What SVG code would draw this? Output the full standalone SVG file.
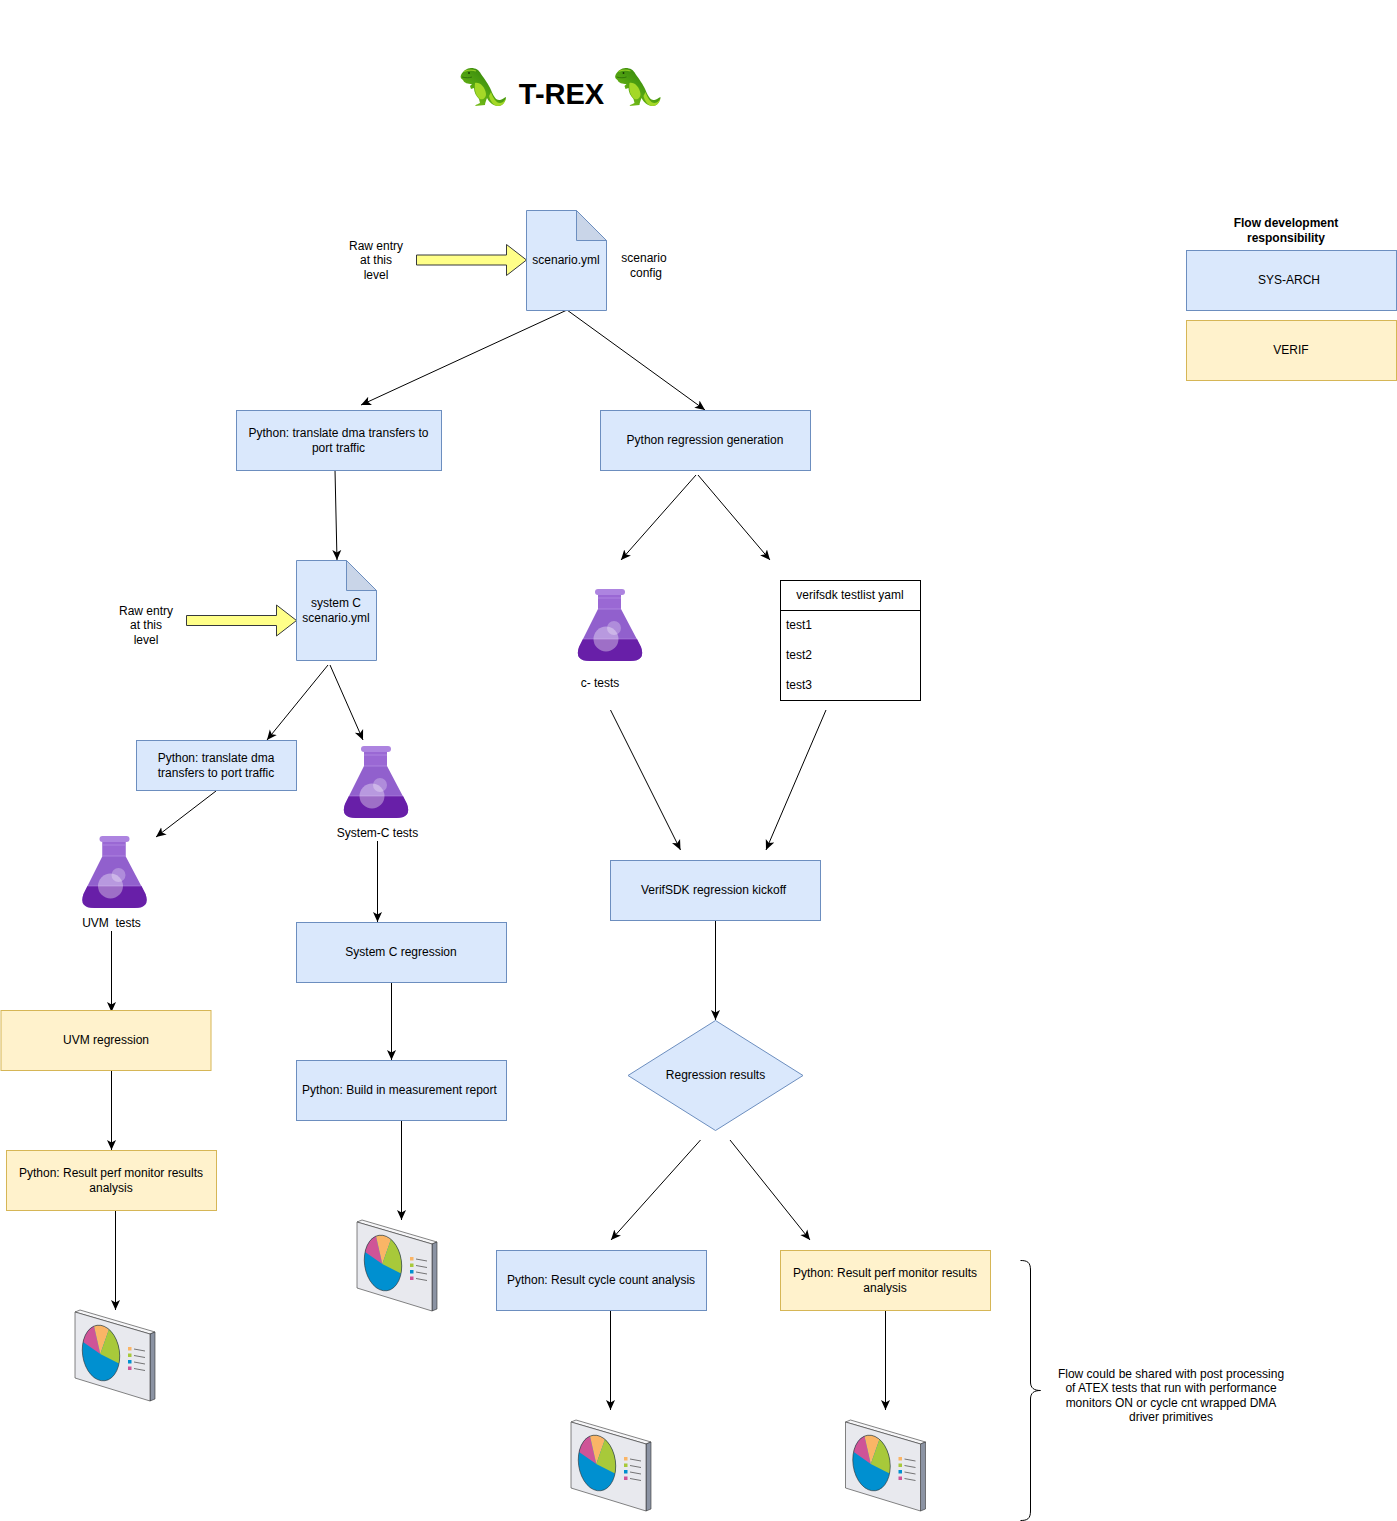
<svg xmlns="http://www.w3.org/2000/svg" width="1397" height="1521" viewBox="0 0 1397 1521">
<style>
text{font-family:"Liberation Sans",Arial,sans-serif;font-size:12px;fill:#000;text-anchor:middle;white-space:pre}
.l{text-anchor:start}
.b{font-weight:bold}
.t{font-size:29px;font-weight:bold}
.blue{fill:#dae8fc;stroke:#6c8ebf}
.yel{fill:#fff2cc;stroke:#d6b656}
.fold{fill:#c9d5e8;stroke:#6c8ebf}
.block{fill:#ffff88;stroke:#36393d}
.tbl{fill:#fff;stroke:#000}
.c{fill:none;stroke:#000;stroke-width:1;marker-end:url(#a)}
</style>
<defs>
<marker id="a" markerUnits="userSpaceOnUse" markerWidth="12" markerHeight="12" refX="10" refY="5" orient="auto"><path d="M0,0.5 L10,5 L0,9.500 L2.500,5Z" fill="#000"/></marker>
<linearGradient id="dg" x1="0.1" y1="0.9" x2="0.8" y2="0.1"><stop offset="0" stop-color="#7cc019"/><stop offset=".55" stop-color="#4c9e10"/><stop offset="1" stop-color="#2f7f0c"/></linearGradient>
<clipPath id="pc"><ellipse cx="26" cy="43" rx="18.500" ry="28" transform="rotate(-8 26 43)"/></clipPath>
<symbol id="dino" width="47" height="39" viewBox="0 0 47 39" overflow="visible">
<path d="M1,7 C3,3 7,0 11,0 C16,0 19,2 21,6 C24,10 29,17 31,22 C33,27 36,33 40,32 C42,31.500 44,30 46,29 C46,33 43,38 38,38 C33,38 29,34 27,30 C26,33 25,35 25,37 L15,38 C16,36 19,36 20,35 L19,31 C16,28 14,24 14,20 L11,21 L10,18 L12,16 C8,16 4,15 3,12 C1,11 0,9 1,7Z" fill="url(#dg)"/>
<path d="M15,15 C20,14 25,19 26,26 C26,30 23,32 20,31 C16,28 14,22 15,15Z" fill="#a4d827"/>
<path d="M31,24 C33,30 36,35 40,35 C43,35 45,32 46,30 C45,35 42,38 38,38 C34,38 30,33 29,28Z" fill="#a4d827"/>
<path d="M2,9 C6,10 9,10 12,9" fill="none" stroke="#2a6a08" stroke-width=".8"/>
<path d="M4,3.500 C8,2 13,2 16,3" fill="none" stroke="#8fca24" stroke-width="1.200"/>
<circle cx="9" cy="5" r=".9" fill="#173304"/>
</symbol>
<symbol id="flask" width="65" height="73" viewBox="0 0 65 73" overflow="visible">
<path d="M20,6 L43,6 L43,20 L63,58 Q68,72 52,72 L12,72 Q-4,72 1,58 L20,20Z" fill="#9160cd"/>
<path d="M20,6 L43,6 L43,20 L20,20Z" fill="#9a68d4"/>
<path d="M20,9 H43 M20,20 H43" stroke="#b893e6" stroke-width=".7" fill="none"/>
<path d="M5,50 L59,50 L63,58 Q68,72 52,72 L12,72 Q-4,72 1,58Z" fill="#681fa8"/>
<path d="M5,50 H59" stroke="#b893e6" stroke-width=".5"/>
<rect x="17" y="0" width="30" height="6" rx="3" fill="#ad84e0"/>
<circle cx="36" cy="39" r="7" fill="#fff" fill-opacity=".28"/>
<circle cx="28" cy="50" r="12.500" fill="#fff" fill-opacity=".36"/>
</symbol>
<symbol id="chart" width="81" height="91" viewBox="0 0 81 91" overflow="visible">
<path d="M0,2 L5,0 L80,22 L75,24Z" fill="#f6f6f8" stroke="#333" stroke-width=".6"/>
<path d="M75,24 L80,22 L80,89 L75,91Z" fill="#8b93a3" stroke="#333" stroke-width=".6"/>
<path d="M0,2 L75,24 L75,91 L0,68Z" fill="#e8e9ee" stroke="#333" stroke-width=".6"/>
<g clip-path="url(#pc)">
<rect x="0" y="0" width="60" height="80" fill="#0090d0"/>
<path d="M25.300,44 L-6,22 L5,5 L16.500,5Z" fill="#cf5497"/>
<path d="M25.300,44 L16.500,5 L39,5Z" fill="#fab566"/>
<path d="M25.300,44 L39,5 L60,5 L60,61.600Z" fill="#a8c93a"/>
</g>
<ellipse cx="26" cy="43" rx="18.500" ry="28" transform="rotate(-8 26 43)" fill="none" stroke="#333" stroke-width=".6"/>
<rect x="53" y="37" width="3.500" height="3.500" fill="#fab566"/><path d="M59,39 L70,41" stroke="#555" stroke-width=".8"/>
<rect x="53" y="43.500" width="3.500" height="3.500" fill="#a8c93a"/><path d="M59,45.500 L70,47.500" stroke="#555" stroke-width=".8"/>
<rect x="53" y="50" width="3.500" height="3.500" fill="#0090d0"/><path d="M59,52 L70,54" stroke="#555" stroke-width=".8"/>
<rect x="53" y="56.500" width="3.500" height="3.500" fill="#cf5497"/><path d="M59,58.500 L70,60.500" stroke="#555" stroke-width=".8"/>
</symbol>
</defs>
<rect width="1397" height="1521" fill="#fff"/>

<g id="connectors">
<path class="c" d="M567,310 L361,405"/>
<path class="c" d="M567,310 L705,410"/>
<path class="c" d="M335,470 L337,560"/>
<path class="c" d="M696,475 L621,560"/>
<path class="c" d="M698,475 L770,560"/>
<path class="c" d="M328,665 L267,740"/>
<path class="c" d="M330,665 L363,740"/>
<path class="c" d="M216,791 L156,837"/>
<path class="c" d="M377.500,841 L377.500,922"/>
<path class="c" d="M111.500,931 L111.500,1012"/>
<path class="c" d="M111.500,1071 L111.500,1150"/>
<path class="c" d="M115.500,1211 L115.500,1310"/>
<path class="c" d="M391.500,983 L391.500,1060"/>
<path class="c" d="M401.500,1121 L401.500,1220"/>
<path class="c" d="M610.500,710 L680.500,850"/>
<path class="c" d="M826,710 L766,850"/>
<path class="c" d="M715.500,921 L715.500,1020"/>
<path class="c" d="M700.500,1140 L611,1240"/>
<path class="c" d="M730,1140 L810,1240"/>
<path class="c" d="M610.500,1311 L610.500,1410"/>
<path class="c" d="M885.500,1311 L885.500,1410"/>
</g>

<g id="title">
<use href="#dino" x="460" y="68"/>
<text class="t" x="561.500" y="104">T-REX</text>
<use href="#dino" x="614.500" y="68"/>
</g>

<g id="raw1"><text x="376" y="250">Raw entry</text><text x="376" y="264">at this</text><text x="376" y="279">level</text></g>
<g id="arrow1"><path class="block" d="M416.500,255 L506.500,255 L506.500,244.500 L526.500,260 L506.500,275.500 L506.500,265 L416.500,265Z"/></g>
<g id="scenario">
<path class="blue" d="M526.500,210.500 L576.500,210.500 L606.500,240.500 L606.500,310.500 L526.500,310.500Z"/>
<path class="fold" d="M576.500,210.500 L606.500,240.500 L576.500,240.500Z"/>
<text x="566" y="264">scenario.yml</text>
</g>
<g id="scenario-config"><text x="644" y="262">scenario</text><text x="646" y="277">config</text></g>

<g id="legend-title"><text class="b" x="1286" y="227">Flow development</text><text class="b" x="1286" y="242">responsibility</text></g>
<g id="legend-sys"><rect class="blue" x="1186.500" y="250.500" width="210" height="60"/><text x="1289" y="284">SYS-ARCH</text></g>
<g id="legend-verif"><rect class="yel" x="1186.500" y="320.500" width="210" height="60"/><text x="1291" y="354">VERIF</text></g>

<g id="py-translate"><rect class="blue" x="236.500" y="410.500" width="205" height="60"/><text x="338.500" y="437">Python: translate dma transfers to</text><text x="338.500" y="452">port traffic</text></g>
<g id="py-regression"><rect class="blue" x="600.500" y="410.500" width="210" height="60"/><text x="705" y="444">Python regression generation</text></g>

<g id="raw2"><text x="146" y="615">Raw entry</text><text x="146" y="629">at this</text><text x="146" y="644">level</text></g>
<g id="arrow2"><path class="block" d="M186.500,615.500 L276.500,615.500 L276.500,605 L296.500,620.500 L276.500,636 L276.500,625.500 L186.500,625.500Z"/></g>
<g id="systemc-doc">
<path class="blue" d="M296.500,560.500 L346.500,560.500 L376.500,590.500 L376.500,660.500 L296.500,660.500Z"/>
<path class="fold" d="M346.500,560.500 L376.500,590.500 L346.500,590.500Z"/>
<text x="336" y="607">system C</text><text x="336" y="622">scenario.yml</text>
</g>

<g id="c-tests"><use href="#flask" x="578" y="589"/><text x="600" y="687">c- tests</text></g>
<g id="testlist">
<rect class="tbl" x="780.500" y="580.500" width="140" height="120"/>
<path d="M780.500,610.500 H920.500" stroke="#000" fill="none"/>
<text x="850" y="599">verifsdk testlist yaml</text>
<text class="l" x="786" y="629">test1</text>
<text class="l" x="786" y="659">test2</text>
<text class="l" x="786" y="689">test3</text>
</g>

<g id="py-translate-2"><rect class="blue" x="136.500" y="740.500" width="160" height="50"/><text x="216" y="762">Python: translate dma</text><text x="216" y="777">transfers to port traffic</text></g>
<g id="systemc-tests"><use href="#flask" x="344" y="746"/><text x="377.500" y="837">System-C tests</text></g>
<g id="uvm-tests"><use href="#flask" x="82.500" y="836"/><text x="111.500" y="927">UVM  tests</text></g>

<g id="systemc-regression"><rect class="blue" x="296.500" y="922.500" width="210" height="60"/><text x="401" y="956">System C regression</text></g>
<g id="uvm-regression"><rect class="yel" x="1" y="1010.500" width="210" height="60"/><text x="106" y="1044">UVM regression</text></g>
<g id="verifsdk"><rect class="blue" x="610.500" y="860.500" width="210" height="60"/><text x="713.500" y="894">VerifSDK regression kickoff</text></g>
<g id="results"><path class="blue" d="M715.500,1020.500 L803,1075.500 L715.500,1130.500 L628,1075.500Z"/><text x="715.500" y="1079">Regression results</text></g>
<g id="build-report"><rect class="blue" x="296.500" y="1060.500" width="210" height="60"/><text x="399.500" y="1094">Python: Build in measurement report</text></g>
<g id="perf-left"><rect class="yel" x="6.500" y="1150.500" width="210" height="60"/><text x="111" y="1177">Python: Result perf monitor results</text><text x="111" y="1192">analysis</text></g>
<g id="cycle"><rect class="blue" x="496.500" y="1250.500" width="210" height="60"/><text x="601" y="1284">Python: Result cycle count analysis</text></g>
<g id="perf-right"><rect class="yel" x="780.500" y="1250.500" width="210" height="60"/><text x="885" y="1277">Python: Result perf monitor results</text><text x="885" y="1292">analysis</text></g>

<g id="chart-1"><use href="#chart" x="357" y="1220"/></g>
<g id="chart-2"><use href="#chart" x="75" y="1310"/></g>
<g id="chart-3"><use href="#chart" x="571" y="1420"/></g>
<g id="chart-4"><use href="#chart" x="845.500" y="1420"/></g>

<g id="brace"><path d="M1020.500,1260.500 C1027,1260.500 1030.500,1262 1030.500,1270 L1030.500,1382 C1030.500,1388 1034,1390.500 1040.500,1390.500 C1034,1390.500 1030.500,1393 1030.500,1399 L1030.500,1511 C1030.500,1519 1027,1520.500 1020.500,1520.500" fill="none" stroke="#000"/></g>
<g id="note"><text x="1171" y="1378">Flow could be shared with post processing</text><text x="1171" y="1392">of ATEX tests that run with performance</text><text x="1171" y="1407">monitors ON or cycle cnt wrapped DMA</text><text x="1171" y="1421">driver primitives</text></g>
</svg>
